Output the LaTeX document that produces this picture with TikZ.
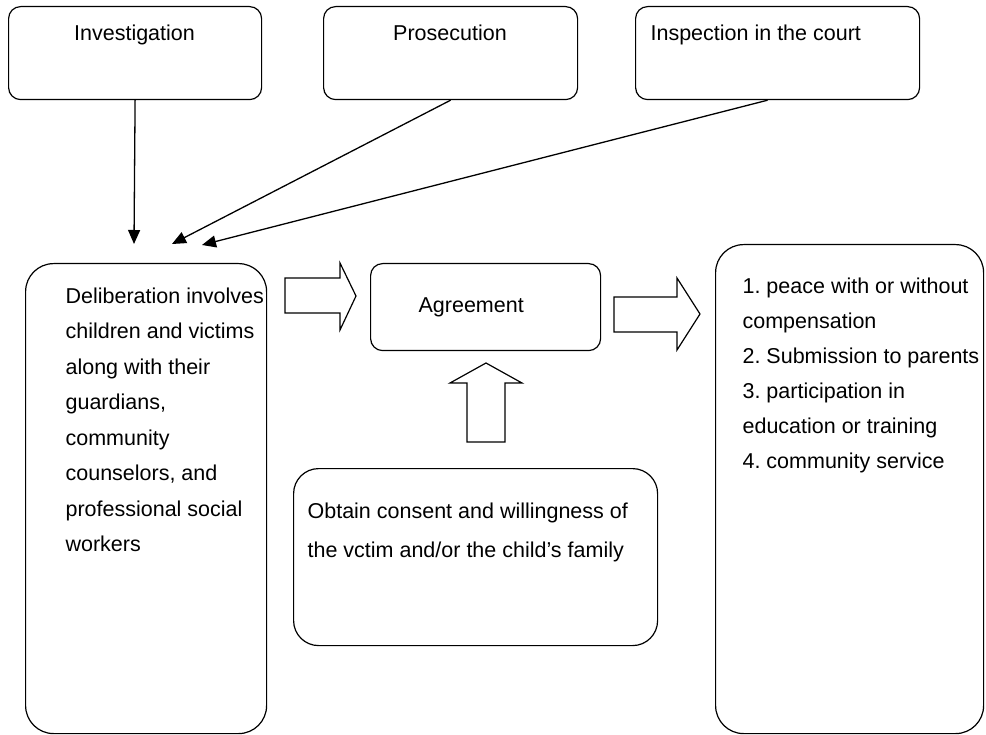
\documentclass[tikz,border=0pt]{standalone}
\usepackage{fontspec}
\setmainfont{Liberation Sans}
\usetikzlibrary{arrows.meta,calc}
\begin{document}
\frenchspacing
\begin{tikzpicture}[x=1pt,y=-1pt, line width=1.2pt,
  box/.style={draw, rounded corners=#1, anchor=north west, inner sep=0pt},
  txt/.style={font=\fontsize{21.5}{35.5}\selectfont\frenchspacing, inner sep=0pt, align=left},
  txtb/.style={font=\fontsize{21.5}{35}\selectfont\frenchspacing, inner sep=0pt, align=left},
  txtc/.style={font=\fontsize{21.5}{39}\selectfont\frenchspacing, inner sep=0pt, align=left},
  lnk/.style={-{Triangle[length=14pt,width=12pt]}, line width=1.3pt},
  blk/.style={draw, line width=1.2pt, line join=miter}]
\useasboundingbox (0,0) rectangle (986,735);

% top boxes
\node[box=12pt, minimum width=253pt, minimum height=93pt] (inv) at (8,6) {};
\node[box=12pt, minimum width=254pt, minimum height=93pt] (pros) at (323,6) {};
\node[box=12pt, minimum width=284pt, minimum height=93pt] (insp) at (635,6) {};
\node[txt, anchor=base] (invt) at (134.5,41) {Investigation};
\node[txt, anchor=base] (prost) at (450,41) {Prosecution};
\node[txt, anchor=base west] (inspt) at (650,41) {Inspection in the court};

% main boxes
\node[box=28pt, minimum width=241pt, minimum height=470pt] (delib) at (25,263) {};
\node[box=12pt, minimum width=230pt, minimum height=87pt] (agr) at (370,263) {};
\node[box=25pt, minimum width=364pt, minimum height=177pt] (cons) at (293,468) {};
\node[box=28pt, minimum width=268pt, minimum height=489pt] (outc) at (715,244) {};

\node[txt, anchor=north west] (delibt) at (65,287) {Deliberation involves\\children and victims\\along with their\\guardians,\\community\\counselors, and\\professional social\\workers};
\node[txt, anchor=base west] (agrt) at (418,313) {Agreement};
\node[txtc, anchor=north west] (const) at (307,502) {Obtain consent and willingness of\\the vctim and/or the child’s family};
\node[txtb, anchor=north west] (outct) at (742,277) {1. peace with or without\\compensation\\2. Submission to parents\\3. participation in\\education or training\\4. community service};

% connectors
\coordinate (t1) at (134,244);
\coordinate (t2) at (172,244);
\coordinate (t3) at (202,245);
\draw[lnk] (inv.south) -- (t1);
\draw[lnk] (pros.south) -- (t2);
\draw[lnk] ($(insp.south)+(-10,0)$) -- (t3);

% block arrows
\draw[blk] (285,278) -- (340,278) -- (340,263) -- (356,296) -- (340,330) -- (340,313) -- (285,313) -- cycle;
\draw[blk] (614,297) -- (677,297) -- (677,278) -- (700,314) -- (677,350) -- (677,332) -- (614,332) -- cycle;
\draw[blk] (467,442) -- (467,383) -- (450,383) -- (486,363) -- (522,383) -- (505,383) -- (505,442) -- cycle;
\end{tikzpicture}
\end{document}
